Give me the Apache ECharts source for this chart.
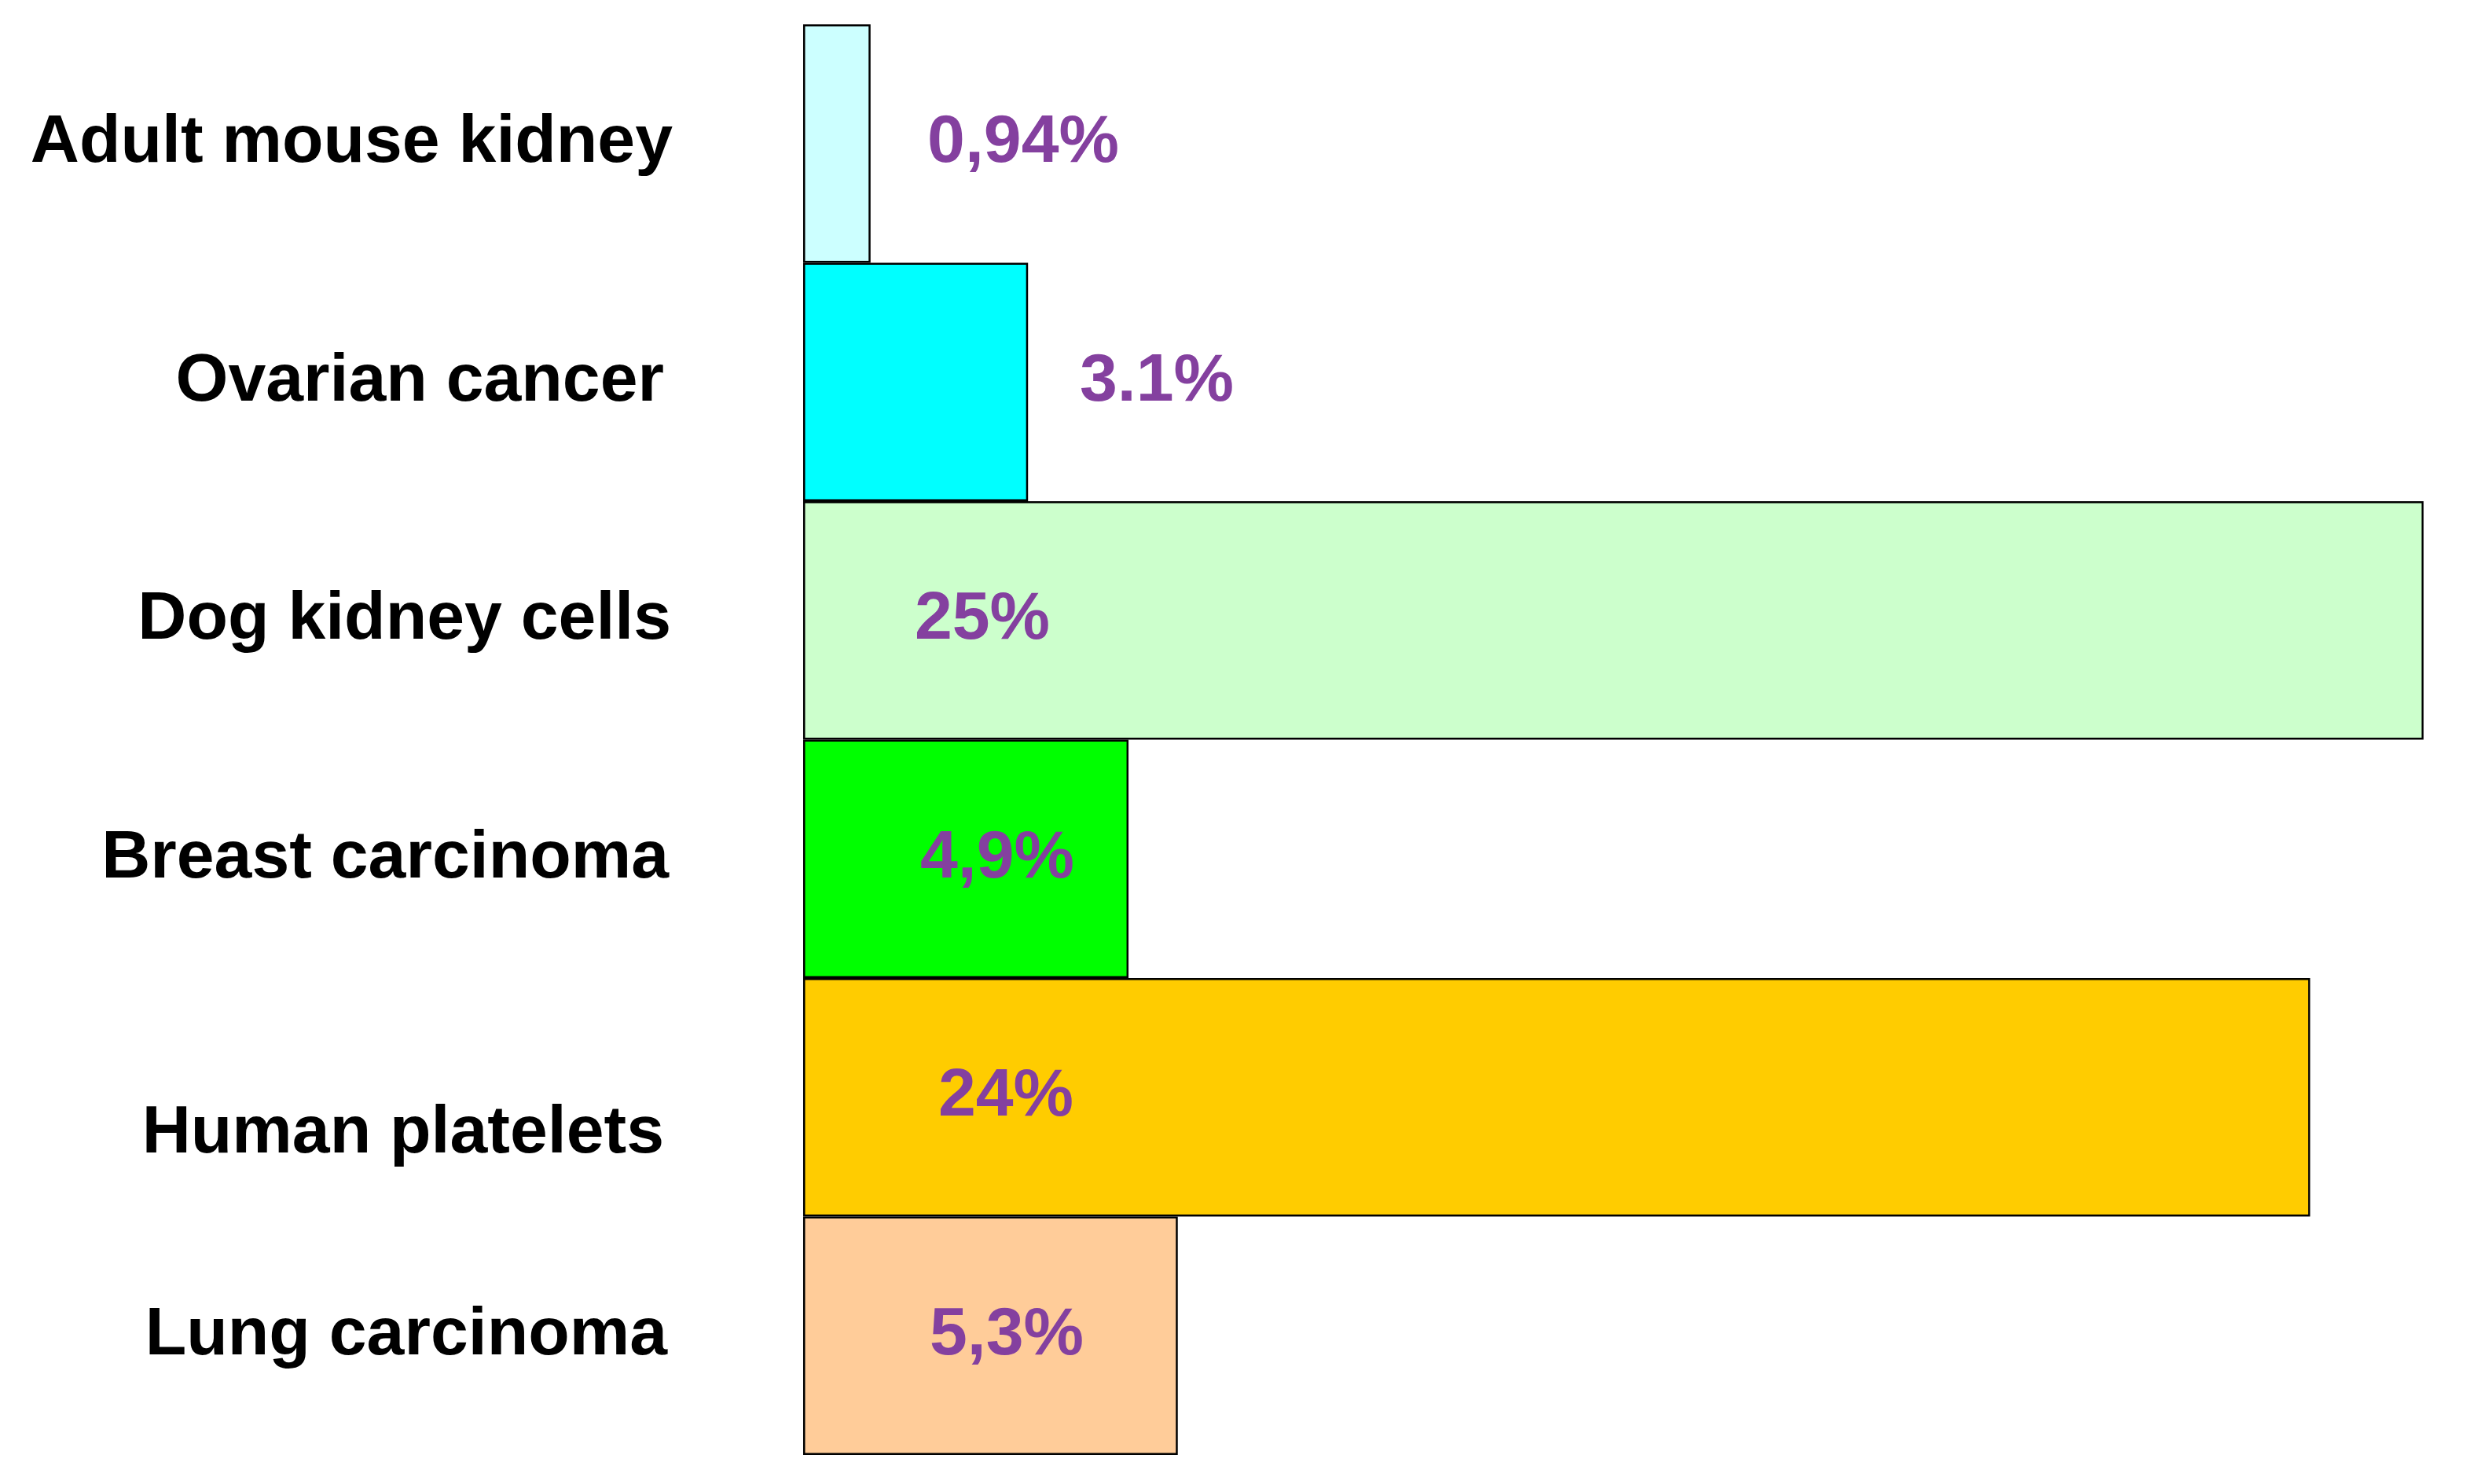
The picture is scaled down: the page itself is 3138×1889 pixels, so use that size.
<!DOCTYPE html>
<html>
<head>
<meta charset="utf-8">
<script src="https://cdn.jsdelivr.net/npm/echarts@6/dist/echarts.min.js"></script>
<style>
html,body{margin:0;padding:0;background:#fff;}
#chart{width:3138px;height:1889px;}
</style>
</head>
<body>
<div id="chart"></div>
<script>
const categories = ['Adult mouse kidney', 'Ovarian cancer', 'Dog kidney cells', 'Breast carcinoma', 'Human platelets', 'Lung carcinoma'];
const barValues = [1.04, 3.47, 25, 5.02, 23.25, 5.78];
const valueLabels = ['0,94%', '3.1%', '25%', '4,9%', '24%', '5,3%'];
const barColors = ['#CCFFFF', '#00FFFF', '#CCFFCC', '#00FF00', '#FFCC00', '#FFCC99'];

// layout/style settings (not data)
const labelCenterX = [280, 450, 228, 247, 258, 259];
const catPadRight = [0, 11, 2, 5, 11, 7];
const catPadTop = [0, 0, 0, 0, 94, 0];

const chart = echarts.init(document.getElementById('chart'), null, {renderer: 'canvas'});
const FONT = '"Liberation Sans", Arial, sans-serif';

const rich = {};
categories.forEach((c, i) => {
  rich['c' + i] = {
    fontFamily: FONT, fontSize: 86, fontWeight: 'bold', color: '#000',
    padding: [catPadTop[i], catPadRight[i], 0, 0]
  };
});

const option = {
  backgroundColor: '#fff',
  animation: false,
  grid: {left: 1022, right: 54, top: 31, bottom: 37, containLabel: false},
  xAxis: {type: 'value', min: 0, max: 25, show: false},
  yAxis: {
    type: 'category', data: categories, inverse: true,
    axisLine: {show: false}, axisTick: {show: false},
    axisLabel: {
      interval: 0, margin: 166,
      formatter: function (v) { const i = categories.indexOf(v); return '{c' + i + '|' + v + '}'; },
      rich: rich
    }
  },
  series: [{
    type: 'bar',
    barCategoryGap: '0%',
    data: barValues.map((v, i) => ({
      value: v,
      itemStyle: {color: barColors[i], borderColor: '#000', borderWidth: 2.5},
      label: {
        show: true, position: [labelCenterX[i], '50%'], align: 'center', verticalAlign: 'middle',
        formatter: valueLabels[i], color: '#84409F', fontFamily: FONT, fontSize: 86, fontWeight: 'bold'
      }
    }))
  }]
};
chart.setOption(option);
</script>
</body>
</html>
